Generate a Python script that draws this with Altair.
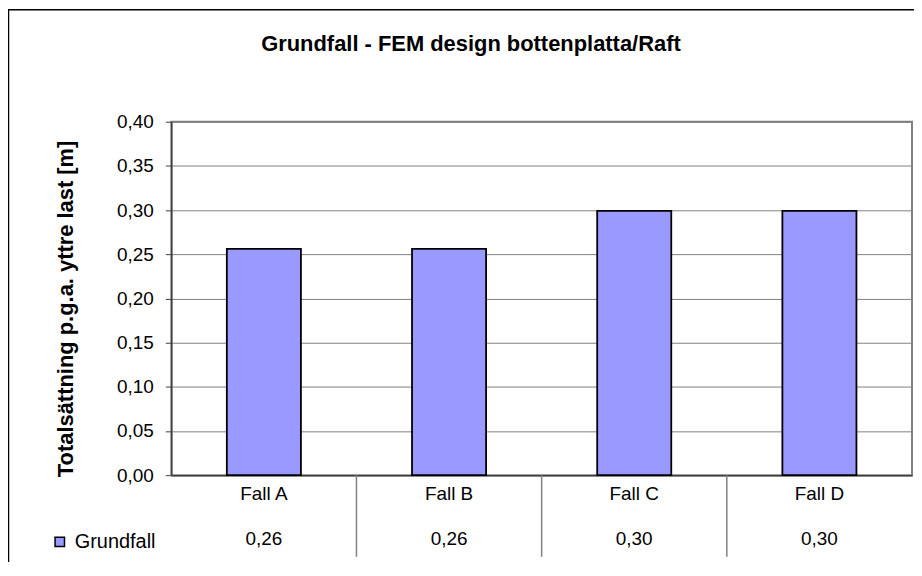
import altair as alt
import pandas as pd

# ---- data ----
categories = ["Fall A", "Fall B", "Fall C", "Fall D"]
values = [0.256, 0.256, 0.299, 0.299]
series_name = "Grundfall"
y_ticks = [0.0, 0.05, 0.10, 0.15, 0.20, 0.25, 0.30, 0.35, 0.40]
separators = ["Fall B", "Fall C", "Fall D"]
title_text = "Grundfall - FEM design bottenplatta/Raft"
y_title = "Totalsättning p.g.a. yttre last [m]"

W, H = 744, 355
FONT = "Liberation Sans"
BAR = "#9999FF"
GRID = "#808080"
AXIS = "#404040"

df = pd.DataFrame({"fall": categories, "v": values, "serie": [series_name] * len(categories)})
sep_df = pd.DataFrame({"fall": separators})
one = pd.DataFrame({"a": [0]})

xscale = alt.Scale(domain=categories, paddingInner=0, paddingOuter=0)
xaxis = alt.Axis(labels=False, ticks=False, title=None, grid=False,
                 domain=True, domainColor=AXIS, domainWidth=1.5)


def xenc(**kw):
    return alt.X("fall:N", scale=xscale, axis=xaxis, title=None, **kw)


bars = alt.Chart(df).mark_bar(
    width=alt.RelativeBandSize(0.4), stroke="black", strokeWidth=1.8
).encode(
    x=xenc(),
    y=alt.Y(
        "v:Q",
        scale=alt.Scale(domain=[0, 0.4], nice=False, zero=True),
        axis=alt.Axis(
            values=y_ticks,
            labelExpr="replace(format(datum.value, '.2f'), '.', ',')",
            labelFont=FONT, labelFontSize=19, labelColor="black", labelPadding=12,
            tickSize=6, tickColor=AXIS, tickWidth=1,
            domainColor=AXIS, domainWidth=1.5,
            gridColor=GRID, gridWidth=1,
            title=y_title, titleFont=FONT, titleFontSize=22, titleFontWeight="bold",
            titleColor="black", titleX=-106, titleY=187.5, titleAngle=270,
            titleAlign="center", titleBaseline="middle",
        ),
    ),
    color=alt.Color(
        "serie:N",
        scale=alt.Scale(domain=[series_name], range=[BAR]),
        legend=alt.Legend(
            orient="none", legendX=-122, legendY=412, padding=0, title=None,
            symbolType="square", symbolSize=90, symbolStrokeColor="black",
            symbolStrokeWidth=1.5, labelFont=FONT, labelFontSize=20,
            labelColor="black", labelOffset=5,
        ),
    ),
)

seps = alt.Chart(sep_df).mark_rule(color=GRID, strokeWidth=1.5).encode(
    x=xenc(bandPosition=0),
    y=alt.value(H),
    y2=alt.value(H + 82),
)

cat_text = alt.Chart(df).mark_text(font=FONT, fontSize=19, color="black", baseline="middle").encode(
    x=xenc(), y=alt.value(374), text="fall:N"
)

val_text = alt.Chart(df).transform_calculate(
    lbl="replace(format(datum.v, '.2f'), '.', ',')"
).mark_text(font=FONT, fontSize=19, color="black", baseline="middle").encode(
    x=xenc(), y=alt.value(419), text="lbl:N"
)

title = alt.Chart(one).mark_text(
    font=FONT, fontSize=22, fontWeight="bold", color="black", baseline="middle", align="center"
).encode(x=alt.value(301), y=alt.value(-78), text=alt.value(title_text))

border = alt.Chart(one).mark_rect(
    fill="transparent", stroke="black", strokeWidth=1.5
).encode(
    x=alt.value(-163.5), x2=alt.value(760), y=alt.value(-112.5), y2=alt.value(500)
)

chart = alt.layer(border, bars, seps, cat_text, val_text, title).properties(
    width=W, height=H,
    autosize=alt.AutoSizeParams(type="none"),
    padding={"left": 164, "top": 113, "right": 2, "bottom": 86},
    background="white",
).configure_view(stroke=GRID, strokeWidth=2)

chart.save("out.html", embed_options={"renderer": "svg", "actions": False})
